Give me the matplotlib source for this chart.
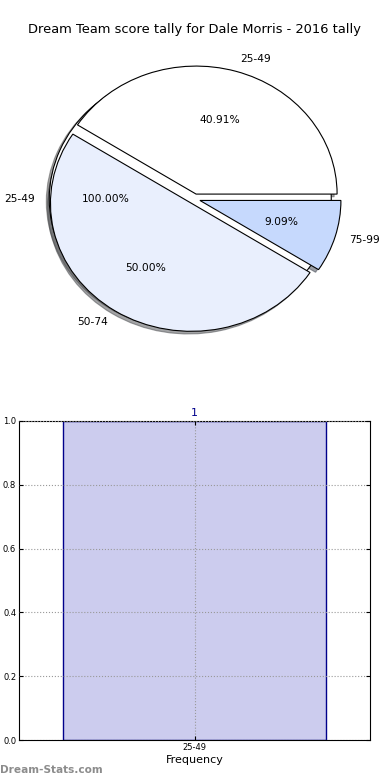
import matplotlib
matplotlib.use("Agg")
import matplotlib.pyplot as plt

# --- dados ---
titulo = "Dream Team score tally for Dale Morris - 2016 tally"

# pizza de fundo (frequência da temporada)
fundo_labels = ["25-49"]
fundo_valores = [1]

# pizza principal
faixas = ["25-49", "50-74", "75-99"]
contagens = [9, 11, 2]
cores = ["white", "#e9effd", "#c6d9fd"]

# barras
barra_labels = ["25-49"]
barra_valores = [1]

W, H = 390, 780
fig = plt.figure(figsize=(W / 100, H / 100), dpi=100)
fig.text(0.5, 1 - 30 / H, titulo, ha="center", va="center", fontsize=9.4)

sombra = {"ox": -0.015, "oy": -0.015}
bordas = {"edgecolor": "black", "linewidth": 0.8}

# --- pizzas (mesmo eixo: a de fundo esconde as sombras da principal) ---
ax1 = fig.add_axes([18.25 / W, 1 - 359 / H, 352.5 / W, 320 / H])
ax1.pie(fundo_valores, labels=fundo_labels, colors=cores[:1], autopct="%.2f%%",
        center=(-0.03, 0.0), shadow=sombra, wedgeprops=bordas,
        textprops={"fontsize": 7.7})
ax1.pie(contagens, labels=faixas, colors=cores, autopct="%.2f%%",
        explode=[0.04] * len(contagens), shadow=sombra,
        wedgeprops=bordas, textprops={"fontsize": 7.7})
ax1.set_aspect("auto")
ax1.set_xlim(-1.25, 1.25)
ax1.set_ylim(-1.25, 1.25)

# --- barras ---
ax2 = fig.add_axes([19 / W, 40 / H, 351 / W, 319 / H])
x = list(range(len(barra_labels)))
barras = ax2.bar(x, barra_valores, width=0.75, color="#ccccee",
                 edgecolor="darkblue", linewidth=1, zorder=2)
for b, v in zip(barras, barra_valores):
    ax2.text(b.get_x() + b.get_width() / 2, v + 0.01, str(v), ha="center",
             va="bottom", color="darkblue", fontsize=8)
ax2.set_xlim(-0.5, 0.5)
ax2.set_ylim(0, 1.0)
ax2.set_xticks(x)
ax2.set_xticklabels(barra_labels)
ax2.set_yticks([0.0, 0.2, 0.4, 0.6, 0.8, 1.0])
ax2.set_yticklabels(["0.0", "0.2", "0.4", "0.6", "0.8", "1.0"])
ax2.tick_params(labelsize=6, direction="in", length=3, top=True, right=True, pad=2)
ax2.grid(True, linestyle=":", color="#999999", linewidth=0.8, zorder=3)
ax2.set_axisbelow(False)
ax2.set_xlabel("Frequency", fontsize=8, labelpad=2)

fig.text(0.0, 1 - 770 / H, "Dream-Stats.com", ha="left", va="center",
         fontsize=7.6, color="#8c8c8c", fontweight="bold")

plt.savefig("out.png", dpi=100)
